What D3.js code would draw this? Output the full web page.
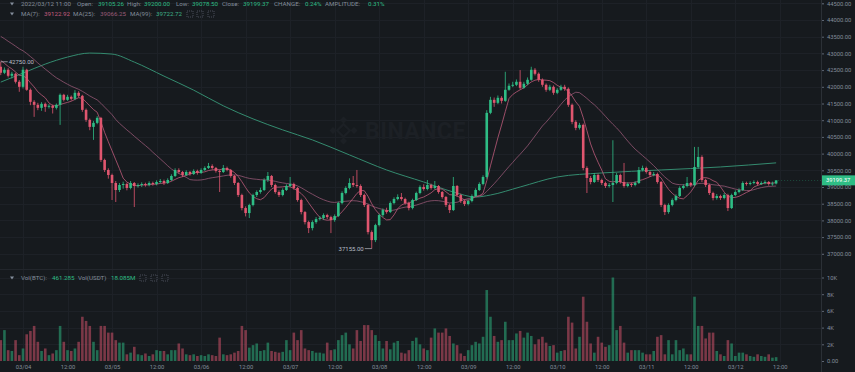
<!DOCTYPE html>
<html>
<head>
<meta charset="utf-8">
<script src="https://cdn.jsdelivr.net/npm/d3@7"></script>
<style>
html, body { margin: 0; padding: 0; background: #161a1e; }
svg { display: block; font-family: Roboto, "Noto Sans", sans-serif; }
</style>
</head>
<body>
<div id="viz"></div>
<script>
(function() {

// hourly BTC/USDT candles, first one is 2022-03-03 18:00 (UTC)
var firstHour = Date.UTC(2022, 2, 3, 18);

// closes before the visible window (only used for MA7 / MA25)
var priorCloses = [44200, 44300, 44150, 44050, 43950, 44000, 43900, 43850, 43800, 43900, 43750, 43700,
    43600, 43650, 43500, 43400, 43300, 43200, 43100, 43000, 42900, 42800, 42700, 42600];

var closes = [42420, 42510, 42330, 42390, 42150, 42000,
    42510, 41910, 41550, 41460, 41370, 41490, 41400, 41430, 41370, 41460,
    41760, 41610, 41700, 41640, 41820, 41730, 41310, 41010, 40800, 40920,
    41070, 39810, 39510, 39360, 39120, 38910, 39060, 39090, 38970, 39120,
    39030, 39060, 39090, 39060, 39120, 39090, 39150, 39180, 39120, 39210,
    39330, 39510, 39450, 39360, 39450, 39390, 39480, 39420, 39510, 39570,
    39630, 39570, 39480, 39450, 39570, 39510, 39330, 39120, 38760, 38370,
    38220, 38460, 38760, 38850, 38910, 39210, 39330, 39060, 38850, 38760,
    38910, 39030, 39090, 38970, 38610, 38250, 37950, 37770, 37950, 38040,
    38070, 38160, 38100, 38010, 38130, 38520, 38820, 38970, 39120, 39060,
    39030, 38760, 38460, 37650, 37410, 37860, 38160, 38310, 38250, 38520,
    38640, 38700, 38640, 38520, 38370, 38610, 38820, 39000, 38940, 39060,
    38970, 39030, 38850, 38700, 38460, 38310, 39030, 38760, 38580, 38490,
    38580, 38730, 38910, 39090, 39300, 41220, 41610, 41520, 41670, 41580,
    41910, 42030, 42060, 42150, 41970, 42090, 42210, 42510, 42390, 42210,
    42060, 41910, 42000, 41820, 41910, 42000, 41940, 41460, 40950, 40770,
    40860, 39570, 39270, 39150, 39360, 39210, 39120, 39030, 39060, 39120,
    39360, 39150, 39030, 39090, 39060, 39120, 39510, 39570, 39450, 39360,
    39390, 39150, 38460, 38250, 38460, 38610, 38730, 38970, 39030, 39120,
    39060, 39600, 39900, 39210, 39060, 38820, 38670, 38730, 38670, 38760,
    38370, 38760, 38850, 38910, 39120, 39090, 39120, 39150, 39090, 39120,
    39150, 39090, 39105.26, 39199.37];

var highs = [42750, 42580, 42560, 42450, 42420, 42200,
    42600, 42540, 41950, 41600, 41520, 41540, 41530, 41480, 41470, 41500,
    41800, 41790, 41760, 41740, 41900, 41870, 41760, 41350, 41050, 40980,
    41120, 41100, 39850, 39560, 39400, 39180, 39120, 39160, 39130, 39180,
    39150, 39110, 39140, 39130, 39170, 39160, 39200, 39240, 39220, 39260,
    39380, 39560, 39560, 39480, 39500, 39480, 39530, 39520, 39560, 39620,
    39720, 39680, 39600, 39520, 39660, 39610, 39540, 39360, 39150, 38800,
    38420, 38500, 38800, 38900, 38980, 39260, 39450, 39360, 39100, 38900,
    38960, 39080, 39300, 39130, 39000, 38650, 38280, 37990, 38000, 38100,
    38130, 38210, 38200, 38140, 38180, 38560, 38870, 39020, 39260, 39330,
    39510, 39080, 38800, 38500, 37700, 37900, 38200, 38360, 38380, 38570,
    38690, 38780, 38820, 38680, 38560, 38650, 38860, 39050, 39080, 39210,
    39100, 39180, 39060, 38880, 38730, 38500, 39300, 39060, 38800, 38620,
    38630, 38780, 38960, 39140, 39350, 41300, 41700, 41680, 41740, 41720,
    42450, 42100, 42150, 42220, 42500, 42150, 42280, 42600, 42560, 42430,
    42250, 42100, 42060, 42040, 41960, 42060, 42060, 41980, 41500, 41000,
    40920, 40900, 39620, 39330, 39420, 39400, 39250, 39160, 39120, 40400,
    39420, 39400, 39720, 39140, 39130, 39180, 39600, 39640, 39610, 39490,
    39450, 39430, 39180, 38500, 38510, 38660, 38780, 39020, 39080, 39300,
    39150, 40200, 40200, 39950, 39250, 39100, 38860, 38790, 38770, 38820,
    38800, 38800, 38900, 38960, 39170, 39160, 39170, 39200, 39190, 39170,
    39200, 39180, 39160, 39200];

var lows = [42350, 42380, 42280, 42250, 42100, 41850,
    41950, 41880, 41450, 41100, 41300, 41280, 41250, 41350, 41200, 41320,
    40860, 41560, 41580, 41590, 41600, 41680, 41250, 40950, 40700, 40410,
    40880, 39750, 39450, 39250, 38610, 38550, 38850, 38950, 38900, 38930,
    38400, 38980, 39000, 39010, 39020, 39040, 39050, 39110, 39060, 39090,
    39180, 39300, 39400, 39300, 39330, 39340, 39360, 39370, 39390, 39480,
    39540, 39520, 39430, 38850, 39420, 39470, 39280, 39060, 38700, 38300,
    38120, 38070, 38420, 38700, 38800, 38880, 39150, 39000, 38800, 38700,
    38720, 38880, 38990, 38920, 38560, 38180, 37880, 37620, 37700, 37900,
    38000, 38020, 38040, 37620, 37960, 38100, 38480, 38780, 38930, 39000,
    38980, 38700, 38400, 37580, 37155, 37350, 37820, 38100, 38200, 38220,
    38480, 38600, 38590, 38470, 38300, 38330, 38580, 38780, 38890, 38900,
    38920, 38930, 38800, 38650, 38400, 38220, 38280, 38700, 38520, 38430,
    38450, 38540, 38700, 38880, 39050, 39250, 41180, 41400, 41480, 41500,
    41550, 41880, 41990, 42020, 41920, 41940, 42050, 42180, 42340, 42150,
    42000, 41850, 41870, 41760, 41780, 41880, 41880, 41400, 40880, 40700,
    40720, 39500, 38820, 39080, 39120, 39150, 39060, 38970, 38980, 38550,
    39080, 39100, 38980, 38990, 39000, 39020, 39090, 39470, 39400, 39300,
    39320, 39100, 38400, 38160, 38200, 38420, 38570, 38700, 38930, 38990,
    39000, 39020, 39550, 39150, 39000, 38760, 38600, 38620, 38610, 38630,
    38280, 38340, 38720, 38810, 38880, 39040, 39050, 39080, 39040, 39060,
    39080, 39040, 39040, 39078.5];

// volume in BTC
var volumes = [2500, 3700, 1300, 1200, 2500, 700,
    1500, 3200, 3600, 4200, 2300, 1200, 1500, 700, 900, 1300,
    4200, 2300, 1300, 1200, 1500, 2300, 5300, 4800, 4200, 2300,
    1300, 4200, 4200, 3400, 3400, 2500, 2200, 2200, 800, 1000,
    1700, 800, 700, 900, 600, 800, 1300, 1200, 1200, 800,
    1300, 1300, 2100, 1500, 800, 700, 800, 600, 700, 600,
    800, 700, 600, 2800, 800, 700, 800, 1000, 1200, 4200,
    3700, 1600, 1900, 2100, 1200, 1300, 2200, 1200, 1100, 1000,
    1100, 2500, 1300, 3400, 2500, 3700, 1500, 1300, 1200, 1000,
    1000, 900, 2200, 1300, 1400, 2500, 3100, 3400, 2000, 1500,
    3700, 2400, 4300, 4300, 3700, 3100, 2400, 1500, 2400, 1400,
    2200, 2400, 1000, 900, 1300, 2400, 2800, 2000, 1500, 1300,
    2800, 3900, 3400, 3400, 3900, 3000, 2100, 1900, 900, 600,
    1300, 1900, 2300, 2100, 2900, 8500, 5300, 3000, 2300, 2500,
    4700, 2500, 2500, 3300, 3600, 2800, 3400, 3000, 2000, 2600,
    2900, 2200, 1800, 1900, 1000, 1200, 1300, 5300, 4600, 1500,
    2900, 7700, 4700, 2100, 1000, 2900, 2200, 1700, 1900, 10000,
    3700, 4200, 2200, 1000, 1300, 1300, 1300, 1000, 800, 800,
    1200, 2900, 3100, 800, 2500, 800, 2500, 1300, 1500, 800,
    800, 7700, 4200, 4200, 2700, 3400, 3400, 1200, 800, 600,
    2500, 2100, 600, 1000, 1000, 800, 600, 500, 800, 600,
    500, 800, 400, 461.285];

// MA(99) (hour offset from first candle, price)
var ma99Hours = [0, 6, 12, 18, 24, 30, 36, 44, 52, 60, 68, 76, 84, 94, 104, 114, 122, 128, 132, 140, 150, 162, 178, 194, 209];
var ma99Values = [42140, 42410, 42680, 42890, 43010, 42980, 42740, 42320, 41900, 41430, 41040, 40710, 40410,
    39960, 39510, 39150, 38850, 38700, 38760, 39000, 39300, 39420, 39510, 39600, 39722.72];

var priceTicks = [37000, 37500, 38000, 38500, 39000, 39500, 40000, 40500, 41000, 41500, 42000, 42500, 43000, 43500, 44000, 44500];
var volTicks = [0, 2000, 4000, 6000, 8000, 10000];

var W = 855, H = 372, axisX = 821;
var upColor = "#2ebd85", downColor = "#e0566f", gridColor = "#1d2127", textColor = "#848e9c";

var candles = closes.map(function(c, i) {
    return {
        t: new Date(firstHour + i * 3600e3),
        o: i === 0 ? priorCloses[priorCloses.length - 1] : closes[i - 1],
        h: highs[i], l: lows[i], c: c, v: volumes[i]
    };
});

var allCloses = priorCloses.concat(closes);
function movingAvg(n) {
    return closes.map(function(c, i) {
        var end = i + priorCloses.length + 1;
        return {t: candles[i].t, v: d3.mean(allCloses.slice(end - n, end))};
    });
}

var x = d3.scaleUtc()
    .domain([new Date(Date.UTC(2022, 2, 4)), new Date(Date.UTC(2022, 2, 12))])
    .range([23, 23 + 192 * 3.71]);
var y = d3.scaleLinear().domain([37000, 44500]).range([253.8, 3.3]);
var yv = d3.scaleLinear().domain([0, 10000]).range([361, 277.5]);

var svg = d3.select("#viz").append("svg").attr("width", W).attr("height", H);
svg.append("rect").attr("width", W).attr("height", H).attr("fill", "#161a1e");

svg.append("clipPath").attr("id", "plot")
    .append("rect").attr("x", 0).attr("y", 0).attr("width", axisX).attr("height", 362);

var xTicks = d3.utcHour.every(12).range(new Date(Date.UTC(2022, 2, 4)), new Date(Date.UTC(2022, 2, 12, 13)));

// grid
var grid = svg.append("g").attr("stroke", gridColor).attr("stroke-width", 1);
grid.selectAll(".gx").data(xTicks).enter().append("line")
    .attr("x1", function(d) { return Math.round(x(d)) + 0.5; })
    .attr("x2", function(d) { return Math.round(x(d)) + 0.5; })
    .attr("y1", 0).attr("y2", 362);
grid.selectAll(".gy").data(priceTicks).enter().append("line")
    .attr("x1", 0).attr("x2", axisX)
    .attr("y1", function(d) { return Math.round(y(d)) + 0.5; })
    .attr("y2", function(d) { return Math.round(y(d)) + 0.5; });
grid.selectAll(".gv").data(volTicks.slice(1)).enter().append("line")
    .attr("x1", 0).attr("x2", axisX)
    .attr("y1", function(d) { return Math.round(yv(d)) + 0.5; })
    .attr("y2", function(d) { return Math.round(yv(d)) + 0.5; });
svg.append("line").attr("x1", 0).attr("x2", axisX).attr("y1", 269.5).attr("y2", 269.5)
    .attr("stroke", "#22262c");

// watermark
var wmColor = "#1c2025";
var wm = svg.append("g").attr("fill", "none").attr("stroke", wmColor).attr("stroke-width", 2.2);
wm.append("rect").attr("x", 339).attr("y", 126).attr("width", 9).attr("height", 9)
    .attr("transform", "rotate(45 343.5 130.5)");
[[343.5, 120], [343.5, 141], [333, 130.5], [354, 130.5]].forEach(function(p) {
    wm.append("rect").attr("x", p[0] - 2.5).attr("y", p[1] - 2.5).attr("width", 5).attr("height", 5)
        .attr("fill", wmColor).attr("stroke", "none")
        .attr("transform", "rotate(45 " + p[0] + " " + p[1] + ")");
});
svg.append("text").attr("x", 365).attr("y", 139).text("BINANCE")
    .attr("font-size", 23).attr("font-weight", 700).attr("letter-spacing", 0.5)
    .attr("fill", wmColor);

var plot = svg.append("g").attr("clip-path", "url(#plot)");

// volume bars
plot.selectAll(".vol").data(candles).enter().append("rect")
    .attr("x", function(d) { return x(d.t) - 1.3; })
    .attr("width", 2.6)
    .attr("y", function(d) { return yv(d.v); })
    .attr("height", function(d) { return 361 - yv(d.v); })
    .attr("fill", function(d) { return d.c >= d.o ? upColor : downColor; })
    .attr("opacity", 0.5);

// moving averages
var line = d3.line().x(function(d) { return x(d.t); }).y(function(d) { return y(d.v); });
plot.append("path").datum(ma99Hours.map(function(h, i) {
        return {t: new Date(firstHour + h * 3600e3), v: ma99Values[i]};
    }))
    .attr("d", line.curve(d3.curveMonotoneX))
    .attr("fill", "none").attr("stroke", "#348b6f").attr("stroke-width", 1);
line.curve(d3.curveLinear);
plot.append("path").datum(movingAvg(25)).attr("d", line)
    .attr("fill", "none").attr("stroke", "#9a5a78").attr("stroke-width", 0.9).attr("opacity", 0.85);
plot.append("path").datum(movingAvg(7)).attr("d", line)
    .attr("fill", "none").attr("stroke", "#c45d7e").attr("stroke-width", 0.9).attr("opacity", 0.85);

// candles
var cg = plot.selectAll(".candle").data(candles).enter().append("g");
cg.append("line")
    .attr("x1", function(d) { return x(d.t); })
    .attr("x2", function(d) { return x(d.t); })
    .attr("y1", function(d) { return y(d.h); })
    .attr("y2", function(d) { return y(d.l); })
    .attr("stroke", function(d) { return d.c >= d.o ? upColor : downColor; })
    .attr("stroke-width", 0.8);
cg.append("rect")
    .attr("x", function(d) { return x(d.t) - 1.3; })
    .attr("width", 2.6)
    .attr("y", function(d) { return y(Math.max(d.o, d.c)); })
    .attr("height", function(d) { return Math.max(0.8, Math.abs(y(d.o) - y(d.c))); })
    .attr("fill", function(d) { return d.c >= d.o ? upColor : downColor; });

// high / low markers
var hiC = candles[d3.maxIndex(candles, function(d) { return d.h; })];
var loC = candles[d3.minIndex(candles, function(d) { return d.l; })];
svg.append("line").attr("x1", x(hiC.t)).attr("x2", x(hiC.t) + 7)
    .attr("y1", y(hiC.h)).attr("y2", y(hiC.h)).attr("stroke", "#b7bdc6").attr("stroke-width", 0.7);
svg.append("text").attr("x", x(hiC.t) + 8).attr("y", y(hiC.h)).attr("dy", "0.35em")
    .attr("font-size", 6).attr("fill", "#b7bdc6").text(d3.format(".2f")(hiC.h));
svg.append("line").attr("x1", x(loC.t) - 7).attr("x2", x(loC.t))
    .attr("y1", y(loC.l)).attr("y2", y(loC.l)).attr("stroke", "#b7bdc6").attr("stroke-width", 0.7);
svg.append("text").attr("x", x(loC.t) - 8).attr("y", y(loC.l)).attr("dy", "0.35em")
    .attr("text-anchor", "end").attr("font-size", 6).attr("fill", "#b7bdc6").text(d3.format(".2f")(loC.l));

// last price line
var last = candles[candles.length - 1];
svg.append("line").attr("x1", x(last.t) + 2).attr("x2", axisX)
    .attr("y1", y(last.c)).attr("y2", y(last.c))
    .attr("stroke", upColor).attr("stroke-width", 0.6).attr("stroke-dasharray", "1,2").attr("opacity", 0.6);

// axes
function styleAxis(g) {
    g.attr("font-size", 5.8).attr("font-family", "Roboto, 'Noto Sans', sans-serif");
    g.select(".domain").attr("stroke", "#2b3036");
    g.selectAll(".tick line").attr("stroke", "#5e6673");
    g.selectAll(".tick text").attr("fill", textColor);
}
svg.append("g").attr("transform", "translate(" + axisX + ",0)")
    .call(d3.axisRight(y).tickValues(priceTicks).tickFormat(d3.format(".2f")).tickSize(3).tickPadding(3))
    .call(styleAxis);
svg.append("g").attr("transform", "translate(" + axisX + ",0)")
    .call(d3.axisRight(yv).tickValues(volTicks).tickSize(3).tickPadding(3)
        .tickFormat(function(d) { return d === 0 ? "0.00" : (d / 1000) + "K"; }))
    .call(styleAxis)
    .select(".domain").remove();
svg.append("line").attr("x1", axisX + 0.5).attr("x2", axisX + 0.5).attr("y1", 0).attr("y2", H)
    .attr("stroke", "#2b3036");

var fmtDay = d3.utcFormat("%m/%d"), fmtHour = d3.utcFormat("%H:%M");
svg.append("g").attr("transform", "translate(0,362)")
    .call(d3.axisBottom(x).tickValues(xTicks).tickSize(0).tickPadding(3)
        .tickFormat(function(d) { return d.getUTCHours() === 0 ? fmtDay(d) : fmtHour(d); }))
    .call(styleAxis)
    .select(".domain").remove();

// last price tag
svg.append("rect").attr("x", axisX + 1).attr("y", y(last.c) - 5).attr("width", W - axisX - 1).attr("height", 10)
    .attr("fill", upColor);
svg.append("text").attr("x", axisX + 5).attr("y", y(last.c)).attr("dy", "0.35em")
    .attr("font-size", 5.8).attr("fill", "#ffffff").text(d3.format(".2f")(last.c));

// legends
function legendRow(yPos, parts, iconX) {
    svg.append("path").attr("d", "M10," + (yPos - 1.5) + "h4l-2,3z").attr("fill", textColor);
    var t = svg.append("text").attr("y", yPos).attr("dy", "0.35em").attr("font-size", 6.2);
    parts.forEach(function(p) {
        t.append("tspan").attr("x", p[1]).attr("fill", p[2]).text(p[0]);
    });
    iconX.forEach(function(ix) {
        svg.append("rect").attr("x", ix).attr("y", yPos - 3).attr("width", 6).attr("height", 6)
            .attr("fill", "none").attr("stroke", "#5e6673").attr("stroke-width", 0.7).attr("stroke-dasharray", "1,1");
    });
}
legendRow(4, [
    ["2022/03/12 11:00", 21, textColor], ["Open:", 77, textColor], ["39105.26", 98, upColor],
    ["High:", 127, textColor], ["39200.00", 144, upColor], ["Low:", 176, textColor], ["39078.50", 192, upColor],
    ["Close:", 222, textColor], ["39199.37", 243, upColor], ["CHANGE:", 274, textColor], ["0.24%", 305, upColor],
    ["AMPLITUDE:", 325, textColor], ["0.31%", 368, upColor]
], []);
legendRow(14, [
    ["MA(7):", 21, textColor], ["39122.92", 44, "#c45d7e"],
    ["MA(25):", 73, textColor], ["39066.25", 100, "#9a5a78"],
    ["MA(99):", 130, textColor], ["39722.72", 156, "#3fb088"]
], [187, 197, 208]);
legendRow(278, [
    ["Vol(BTC):", 21, textColor], ["461.285", 52, upColor],
    ["Vol(USDT)", 78, textColor], ["18.085M", 111, upColor]
], [140, 151, 162]);

})();
</script>
</body>
</html>
